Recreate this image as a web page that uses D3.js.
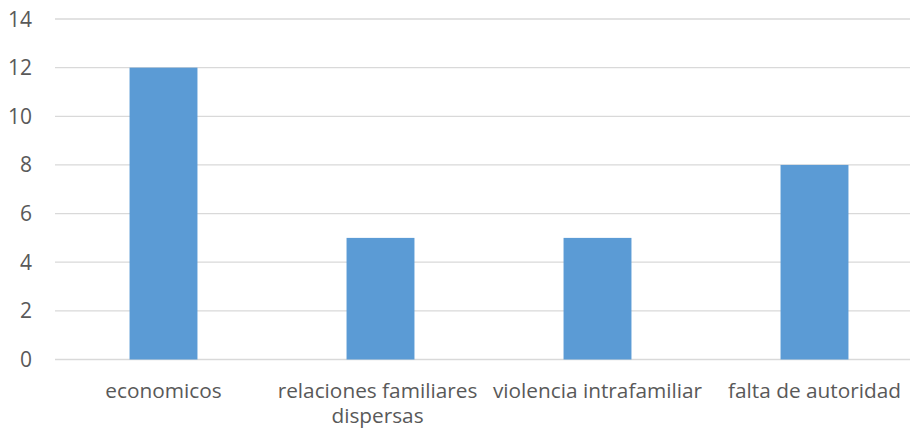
<!DOCTYPE html>
<html>
<head>
<meta charset="utf-8">
<script src="https://cdn.jsdelivr.net/npm/d3@7"></script>
<style>
  html, body { margin: 0; padding: 0; background: #fff; }
  svg text { font-family: 'Open Sans', sans-serif; fill: #595959; }
</style>
</head>
<body>
<svg class="barChart" width="910" height="430"></svg>
<script>
const categories = ["economicos", "relaciones familiares dispersas", "violencia intrafamiliar", "falta de autoridad"];
const values = [12, 5, 5, 8];
const yTicks = [0, 2, 4, 6, 8, 10, 12, 14];

// wrapped label lines (as the chart breaks them)
const labelLines = [
  ["economicos"],
  ["relaciones familiares", "dispersas"],
  ["violencia intrafamiliar"],
  ["falta de autoridad"]
];

const svgWidth = 910;
const svgHeight = 430;

const margin = {top: 19, bottom: 70.5, left: 55, right: -13};
const height = svgHeight - margin.top - margin.bottom;

const svg = d3.select('svg.barChart');

const x = d3.scaleBand()
  .domain(categories)
  .range([margin.left, svgWidth - margin.right])
  .paddingInner(0.687)
  .paddingOuter(0.3435);

const y = d3.scaleLinear()
  .domain([0, 14])
  .range([margin.top + height, margin.top]);

// gridlines
svg.append('g')
  .selectAll('line.grid')
  .data(yTicks)
  .enter()
  .append('line')
  .attr('class', 'grid')
  .attr('x1', margin.left)
  .attr('x2', svgWidth)
  .attr('y1', d => y(d))
  .attr('y2', d => y(d))
  .style('stroke', '#d9d9d9')
  .style('stroke-width', 1.3);

// y tick labels
svg.append('g')
  .selectAll('text.ytick')
  .data(yTicks)
  .enter()
  .append('text')
  .attr('class', 'ytick')
  .attr('x', 32)
  .attr('y', d => y(d))
  .attr('dy', '0.36em')
  .attr('text-anchor', 'end')
  .style('font-size', '21px')
  .text(d => d);

// bars
svg.append('g')
  .selectAll('rect.bar')
  .data(categories)
  .enter()
  .append('rect')
  .attr('class', 'bar')
  .attr('x', d => x(d))
  .attr('y', (d, i) => y(values[i]))
  .attr('width', x.bandwidth())
  .attr('height', (d, i) => y(0) - y(values[i]))
  .style('fill', '#5b9bd5');

// x labels
const xLab = svg.append('g')
  .selectAll('text.xlab')
  .data(categories)
  .enter()
  .append('text')
  .attr('class', 'xlab')
  .attr('text-anchor', 'middle')
  .attr('y', 398)
  .style('font-size', '20.8px');

xLab.selectAll('tspan')
  .data((d, i) => labelLines[i].map(t => ({t: t, c: d})))
  .enter()
  .append('tspan')
  .attr('x', d => x(d.c) + x.bandwidth() / 2 - (labelLines[categories.indexOf(d.c)].length > 1 ? 3 : 0))
  .attr('dy', (d, i) => i === 0 ? 0 : 25)
  .text(d => d.t);
</script>
</body>
</html>
